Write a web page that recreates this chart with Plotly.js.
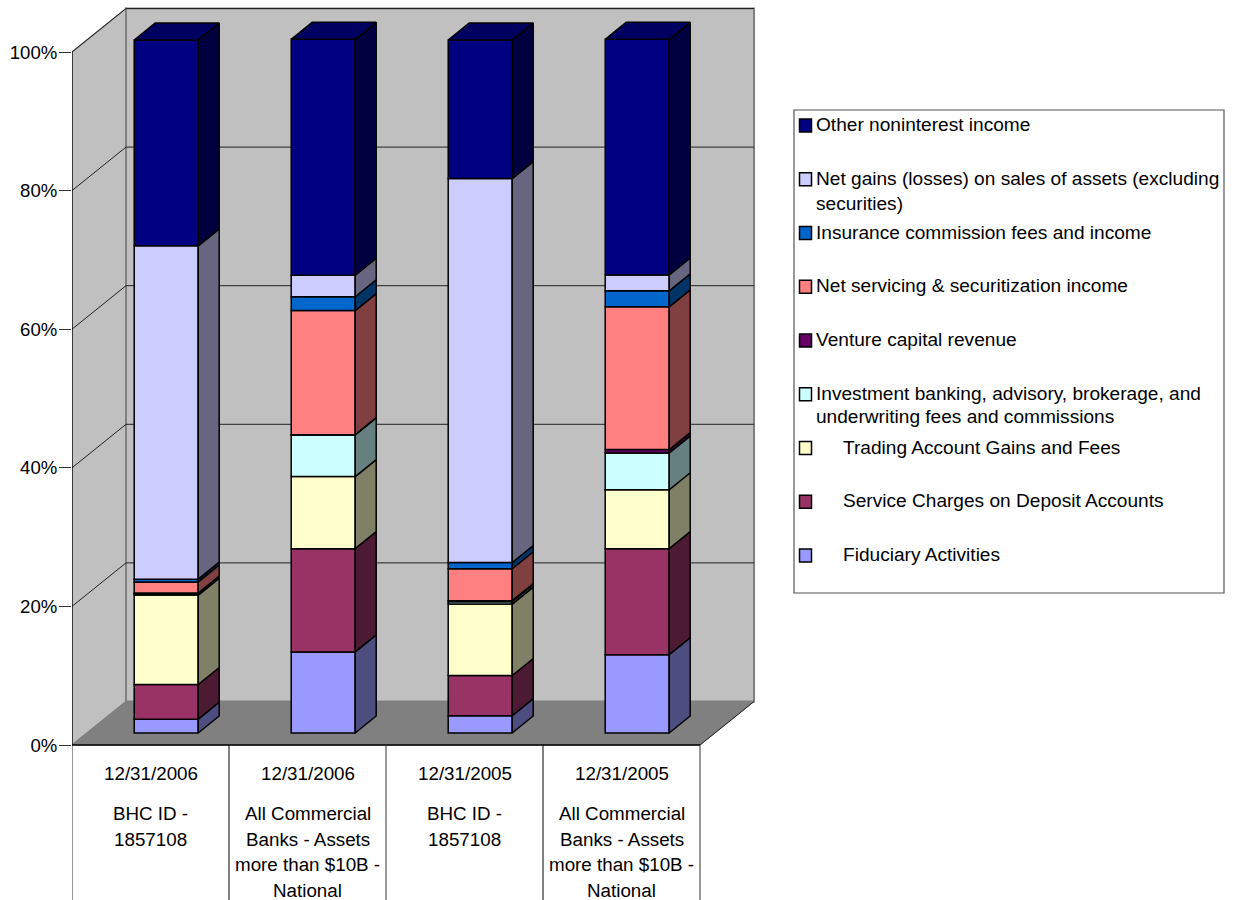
<!DOCTYPE html>
<html>
<head>
<meta charset="utf-8">
<script src="https://cdn.plot.ly/plotly-3.0.1.min.js"></script>
<style>html,body{margin:0;padding:0;background:#fff;overflow:hidden}#chart{width:1234px;height:900px}</style>
</head>
<body>
<div id="chart"></div>
<script>
// Noninterest income composition, 100% stacked, per reporting period and peer group.
const periods = ["12/31/2006", "12/31/2006", "12/31/2005", "12/31/2005"];
const groupLines = [
  ["BHC ID -", "1857108"],
  ["All Commercial", "Banks - Assets", "more than $10B -", "National"],
  ["BHC ID -", "1857108"],
  ["All Commercial", "Banks - Assets", "more than $10B -", "National"]
];
const percentTicks = [0, 20, 40, 60, 80, 100];

const fiduciary   = [2.0, 11.7, 2.5, 11.3];
const serviceChg  = [5.0, 14.9, 5.8, 15.3];
const trading     = [12.9, 10.4, 10.3, 8.5];
const investment  = [0.2, 6.0, 0.35, 5.3];
const venture     = [0.1, 0.05, 0.15, 0.5];
const servicing   = [1.6, 17.9, 4.6, 20.6];
const insurance   = [0.4, 2.0, 0.9, 2.3];
const netGains    = [48.1, 3.1, 55.4, 2.3];
const otherIncome = [29.7, 34.05, 20.0, 34.0];

const seriesValues = [fiduciary, serviceChg, trading, investment, venture, servicing, insurance, netGains, otherIncome];
const faceColors = ["#9999FF", "#993366", "#FFFFCC", "#CCFFFF", "#660066", "#FF8080", "#0066CC", "#CCCCFF", "#000080"];
const sideColors = ["#4D4D80", "#4D1A33", "#808066", "#668080", "#330033", "#804040", "#003366", "#666680", "#000040"];
const capColor = "#000060";

// Legend rows, top to bottom; each row lists its wrapped lines.
const legendRows = [
  {color: 8, indent: 0,  lines: ["Other noninterest income"]},
  {color: 7, indent: 0,  gap: 25, lines: ["Net gains (losses) on sales of assets (excluding", "securities)"]},
  {color: 6, indent: 0,  lines: ["Insurance commission fees and income"]},
  {color: 5, indent: 0,  lines: ["Net servicing & securitization income"]},
  {color: 4, indent: 0,  lines: ["Venture capital revenue"]},
  {color: 3, indent: 0,  gap: 23, lines: ["Investment banking, advisory, brokerage, and", "underwriting fees and commissions"]},
  {color: 2, indent: 27, lines: ["Trading Account Gains and Fees"]},
  {color: 1, indent: 27, lines: ["Service Charges on Deposit Accounts"]},
  {color: 0, indent: 27, lines: ["Fiduciary Activities"]}
];

// Plot frame in page pixels and the oblique projection of the box.
const W = 1234, H = 900;
const plotL = 72, plotR = 756, plotT = 6, plotB = 900;
const pxPerCat = 157, pxPerPct = 6.93, zeroPx = 745;
const xMax = (plotR - plotL) / pxPerCat;
const yMax = (zeroPx - plotT) / pxPerPct;
const yMin = (zeroPx - plotB) / pxPerPct;
const yAt = px => (zeroPx - px) / pxPerPct;
const paperX = px => (px - plotL) / (plotR - plotL);
const paperY = px => (plotB - px) / (plotB - plotT);

const wallDx = 54 / pxPerCat, wallDy = 43.5 / pxPerPct;
const barDx = 21 / pxPerCat, barDy = 17 / pxPerPct;
const barW = 64 / pxPerCat;
const barCenterShift = 15.7 / pxPerCat, barLift = 12 / pxPerPct;
const nCats = periods.length;
const catX = periods.map((_, i) => i + 0.5);
const barX = catX.map(x => x + barCenterShift);

const traces = [];
const cumulative = periods.map(() => 0);
const edge = {color: "#000", width: 1.5};

seriesValues.forEach((vals, s) => {
  const bases = cumulative.map(c => c + barLift);
  traces.push({type: "bar", x: barX, y: vals, base: bases, width: barW,
    marker: {color: faceColors[s], line: edge}, hoverinfo: "skip", showlegend: false});
  const sx = [], sy = [];
  vals.forEach((v, i) => {
    const x1 = barX[i] + barW / 2, y0 = bases[i], y1 = y0 + v;
    sx.push(x1, x1 + barDx, x1 + barDx, x1, x1, null);
    sy.push(y0, y0 + barDy, y1 + barDy, y1, y0, null);
    cumulative[i] += v;
  });
  traces.push({type: "scatter", mode: "lines", x: sx, y: sy, fill: "toself", fillcolor: sideColors[s],
    line: edge, hoverinfo: "skip", showlegend: false});
});

// Cap on top of every column.
const capX = [], capY = [];
barX.forEach((x, i) => {
  const xa = x - barW / 2, xb = x + barW / 2, yt = cumulative[i] + barLift;
  capX.push(xa, xb, xb + barDx, xa + barDx, xa, null);
  capY.push(yt, yt, yt + barDy, yt + barDy, yt, null);
});
traces.push({type: "scatter", mode: "lines", x: capX, y: capY, fill: "toself", fillcolor: capColor,
  line: edge, hoverinfo: "skip", showlegend: false});

const shapes = [];
const poly = (pts, fill, lineColor, lineW) => shapes.push({
  type: "path", layer: "below", xref: "x", yref: "y",
  path: "M" + pts.map(p => p[0] + "," + p[1]).join("L") + "Z",
  fillcolor: fill, line: {color: lineColor, width: lineW}
});
const seg = (x0, y0, x1, y1, color, width) => shapes.push({
  type: "line", layer: "below", xref: "x", yref: "y", x0, y0, x1, y1, line: {color, width}
});

const axisTop = percentTicks[percentTicks.length - 1];
// Floor, side wall and back wall of the box.
poly([[0, 0], [nCats, 0], [nCats + wallDx, wallDy], [wallDx, wallDy]], "#808080", "#808080", 1);
poly([[0, 0], [wallDx, wallDy], [wallDx, axisTop + wallDy], [0, axisTop]], "#C0C0C0", "#808080", 1.5);
poly([[wallDx, wallDy], [nCats + wallDx, wallDy], [nCats + wallDx, axisTop + wallDy], [wallDx, axisTop + wallDy]], "#C0C0C0", "#808080", 2);
percentTicks.slice(1).forEach(t => {
  seg(0, t, wallDx, t + wallDy, "#222", 1);
  seg(wallDx, t + wallDy, nCats + wallDx, t + wallDy, "#222", 1);
});
seg(nCats, 0, nCats + wallDx, wallDy, "#222", 1);
seg(0, 0, 0, axisTop, "#000", 1.2);
// Category table below the floor.
seg(-0.1, 0, nCats, 0, "#000", 1.6);
for (let i = 0; i <= nCats; i++) seg(i, 0, i, yMin, i % 2 ? "#000" : "#333", 1);

// Category labels, one text per line.
const annotations = [];
const family = "Liberation Sans, Arial, sans-serif";
const axisFont = {family, size: 18.6, color: "#000"};
const catFont = {family, size: 18.8, color: "#000"};
const legendFont = {family, size: 19.1, color: "#000"};
const catText = (i, text, px) => annotations.push({
  xref: "x", yref: "y", x: catX[i], y: yAt(px), text, showarrow: false,
  xanchor: "center", yanchor: "middle", font: catFont, borderpad: 0
});
periods.forEach((p, i) => {
  catText(i, p, 773.5);
  groupLines[i].forEach((line, k) => catText(i, line, 813.5 + k * 25.6));
});

// Legend panel.
const legL = 794, legR = 1224, legT = 110, legB = 593;
shapes.push({type: "rect", layer: "below", xref: "paper", yref: "paper",
  x0: paperX(legL), x1: paperX(legR), y0: paperY(legB), y1: paperY(legT),
  fillcolor: "#fff", line: {color: "#555", width: 1.2}});
legendRows.forEach((row, r) => {
  const cy = 125.5 + r * 53.75;
  shapes.push({type: "rect", layer: "above", xref: "paper", yref: "paper",
    x0: paperX(799.5), x1: paperX(811.5), y0: paperY(cy + 6.5), y1: paperY(cy - 6.5),
    fillcolor: faceColors[row.color], line: {color: "#000", width: 1.5}});
  row.lines.forEach((line, k) => annotations.push({
    xref: "paper", yref: "paper", x: paperX(816 + row.indent), y: paperY(cy - 1 + k * (row.gap || 0)),
    text: line.replace(/&/g, "&amp;"), showarrow: false, xanchor: "left", yanchor: "middle",
    align: "left", font: legendFont, borderpad: 0, borderwidth: 0
  }));
});

const layout = {
  width: W, height: H,
  margin: {l: plotL, r: W - plotR, t: plotT, b: H - plotB, pad: 0},
  paper_bgcolor: "#fff", plot_bgcolor: "rgba(0,0,0,0)",
  barmode: "overlay", showlegend: false,
  font: axisFont,
  xaxis: {visible: false, range: [0, xMax], fixedrange: true},
  yaxis: {range: [yMin, yMax], tickmode: "array", tickvals: percentTicks,
    ticktext: percentTicks.map(t => t + "%"), ticks: "outside", ticklen: 12, tickwidth: 1, tickcolor: "#333",
    ticklabelstandoff: -2, showline: false, showgrid: false, zeroline: false, tickfont: axisFont, fixedrange: true},
  shapes, annotations
};
Plotly.newPlot("chart", traces, layout, {displayModeBar: false, staticPlot: true});
</script>
</body>
</html>
